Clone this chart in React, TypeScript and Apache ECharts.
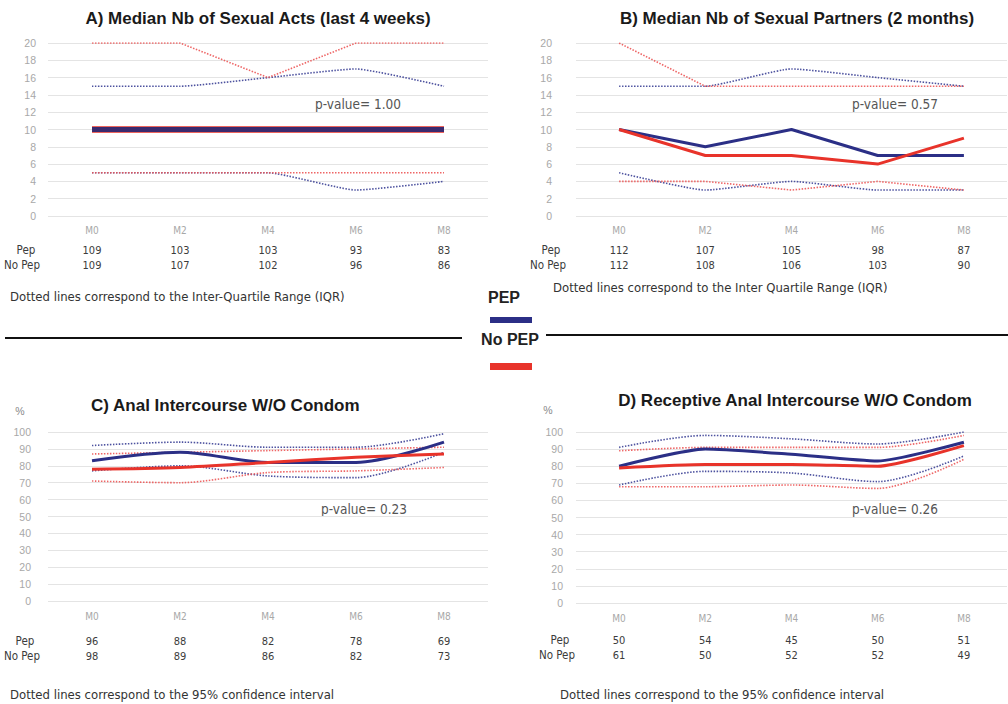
import React, { useEffect, useRef } from "react";
import * as echarts from "echarts";

// ---------- DATA ----------
const months = ["M0", "M2", "M4", "M6", "M8"];

// A) Median Nb of Sexual Acts (last 4 weeks)
const actsPepMedian = [10, 10, 10, 10, 10];
const actsNoPepMedian = [10, 10, 10, 10, 10];
const actsPepQ3 = [15, 15, 16, 17, 15];
const actsPepQ1 = [5, 5, 5, 3, 4];
const actsNoPepQ3 = [20, 20, 16, 20, 20];
const actsNoPepQ1 = [5, 5, 5, 5, 5];
const actsPepN = [109, 103, 103, 93, 83];
const actsNoPepN = [109, 107, 102, 96, 86];

// B) Median Nb of Sexual Partners (2 months)
const partPepMedian = [10, 8, 10, 7, 7];
const partNoPepMedian = [10, 7, 7, 6, 9];
const partPepQ3 = [15, 15, 17, 16, 15];
const partPepQ1 = [5, 3, 4, 3, 3];
const partNoPepQ3 = [20, 15, 15, 15, 15];
const partNoPepQ1 = [4, 4, 3, 4, 3];
const partPepN = [112, 107, 105, 98, 87];
const partNoPepN = [112, 108, 106, 103, 90];

// C) Anal Intercourse W/O Condom (%)
const aiPep = [83, 88, 82, 82, 94];
const aiNoPep = [78, 79, 82, 85, 87];
const aiPepHigh = [92, 94, 91, 91, 99];
const aiPepLow = [77, 80, 74, 73, 88];
const aiNoPepHigh = [87, 88, 89, 90, 91];
const aiNoPepLow = [71, 70, 76, 77, 79];
const aiPepN = [96, 88, 82, 78, 69];
const aiNoPepN = [98, 89, 86, 82, 73];

// D) Receptive Anal Intercourse W/O Condom (%)
const raiPep = [80, 90, 87, 83, 94];
const raiNoPep = [79, 81, 81, 80, 92];
const raiPepHigh = [91, 98, 96, 93, 100];
const raiPepLow = [69, 77, 76, 71, 86];
const raiNoPepHigh = [89, 91, 91, 91, 98];
const raiNoPepLow = [68, 68, 69, 67, 84];
const raiPepN = [50, 54, 45, 50, 51];
const raiNoPepN = [61, 50, 52, 52, 49];

const titles = [
  "A) Median Nb of Sexual Acts (last 4 weeks)",
  "B) Median Nb of Sexual Partners (2 months)",
  "C) Anal Intercourse W/O Condom",
  "D) Receptive Anal Intercourse W/O Condom",
];
const pValues = ["p-value= 1.00", "p-value= 0.57", "p-value= 0.23", "p-value= 0.26"];
const noteIQR_A = "Dotted lines correspond to the Inter-Quartile Range (IQR)";
const noteIQR_B = "Dotted lines correspond to the Inter Quartile Range (IQR)";
const noteCI = "Dotted lines correspond to the 95% confidence interval";

// ---------- STYLE ----------
const NAVY = "#2b2f86";
const RED = "#e8332a";
const DOT_BLUE = "#3a3f95";
const DOT_RED = "#ec5555";
const COND = "'Liberation Sans Narrow', 'DejaVu Sans Condensed', 'Liberation Sans', sans-serif";
const SANS = "'Liberation Sans', Arial, sans-serif";

function xAxis(gridIndex: number, pep: number[], nopep: number[], l1: number, margin: number) {
  return {
    type: "category",
    gridIndex,
    data: months,
    boundaryGap: true,
    axisLine: { show: false },
    axisTick: { show: false },
    splitLine: { show: false },
    axisLabel: {
      margin,
      interval: 0,
      formatter: (v: string, i: number) => `{m|${v}}\n{n|${pep[i]}}\n{n|${nopep[i]}}`,
      rich: {
        m: { color: "#a8a8a8", fontSize: 10, lineHeight: l1, fontFamily: COND },
        n: { color: "#3c3c3c", fontSize: 11, lineHeight: 15, fontFamily: COND },
      },
    },
  };
}

function yAxis(gridIndex: number, max: number, interval: number, margin: number) {
  return {
    type: "value",
    gridIndex,
    min: 0,
    max,
    interval,
    axisLine: { show: false },
    axisTick: { show: false },
    axisLabel: { color: "#a8a8a8", fontSize: 10.5, fontFamily: SANS, margin },
    splitLine: { lineStyle: { color: "#e4e4e4", width: 1 } },
  };
}

function dotted(idx: number, data: number[], color: string, smooth: number) {
  return {
    type: "line",
    xAxisIndex: idx,
    yAxisIndex: idx,
    data,
    symbol: "none",
    smooth,
    silent: true,
    lineStyle: { color, width: 1.6, type: [1.5, 1.5], opacity: 0.9 },
  };
}

function solid(idx: number, data: number[], color: string, width: number, smooth: number, z: number) {
  return {
    type: "line",
    xAxisIndex: idx,
    yAxisIndex: idx,
    data,
    symbol: "none",
    smooth,
    z,
    silent: true,
    lineStyle: { color, width },
  };
}

export default function App() {
  const ref = useRef<HTMLDivElement>(null);

  useEffect(() => {
    if (!ref.current) return;
    const chart = echarts.init(ref.current, null, { renderer: "svg" });

    const text = (x: number, y: number, t: string, style: any, extra: any = {}) => ({
      type: "text",
      x,
      y,
      silent: true,
      ...extra,
      style: { text: t, verticalAlign: "middle", ...style },
    });

    const titleStyle = { fontFamily: SANS, fontWeight: "bold", fontSize: 17, fill: "#1a1a1a" };
    const pStyle = { fontFamily: COND, fontSize: 13.5, fill: "#555" };
    const rowStyle = { fontFamily: COND, fontSize: 11.5, fill: "#3c3c3c", align: "center" };
    const noteStyle = { fontFamily: COND, fontSize: 13, fill: "#333" };
    const legStyle = { fontFamily: SANS, fontSize: 16, fontWeight: "bold", fill: "#222", align: "center" };

    const option: any = {
      animation: false,
      backgroundColor: "#ffffff",
      grid: [
        { left: 48, top: 43, width: 440, height: 173 },
        { left: 576, top: 43, width: 431, height: 173 },
        { left: 48, top: 432, width: 440, height: 169 },
        { left: 576, top: 432, width: 431, height: 171 },
      ],
      xAxis: [
        xAxis(0, actsPepN, actsNoPepN, 25, 1.5),
        xAxis(1, partPepN, partNoPepN, 25, 1.5),
        xAxis(2, aiPepN, aiNoPepN, 35, -2.5),
        xAxis(3, raiPepN, raiNoPepN, 29, 0.5),
      ],
      yAxis: [yAxis(0, 20, 2, 12), yAxis(1, 20, 2, 24), yAxis(2, 100, 10, 17), yAxis(3, 100, 10, 13)],
      series: [
        // A
        dotted(0, actsPepQ3, DOT_BLUE, 0.15),
        dotted(0, actsPepQ1, DOT_BLUE, 0.15),
        dotted(0, actsNoPepQ3, DOT_RED, 0),
        dotted(0, actsNoPepQ1, DOT_RED, 0),
        solid(0, actsNoPepMedian, RED, 6.5, 0, 3),
        solid(0, actsPepMedian, "#3a2a6e", 5, 0, 4),
        // B
        dotted(1, partPepQ3, DOT_BLUE, 0.15),
        dotted(1, partPepQ1, DOT_BLUE, 0.15),
        dotted(1, partNoPepQ3, DOT_RED, 0),
        dotted(1, partNoPepQ1, DOT_RED, 0),
        solid(1, partPepMedian, NAVY, 3, 0, 3),
        solid(1, partNoPepMedian, RED, 3, 0, 4),
        // C
        dotted(2, aiPepHigh, DOT_BLUE, 0.3),
        dotted(2, aiPepLow, DOT_BLUE, 0.3),
        dotted(2, aiNoPepHigh, DOT_RED, 0.3),
        dotted(2, aiNoPepLow, DOT_RED, 0.3),
        solid(2, aiPep, NAVY, 3, 0.3, 3),
        solid(2, aiNoPep, RED, 3, 0.3, 4),
        // D
        dotted(3, raiPepHigh, DOT_BLUE, 0.3),
        dotted(3, raiPepLow, DOT_BLUE, 0.3),
        dotted(3, raiNoPepHigh, DOT_RED, 0.3),
        dotted(3, raiNoPepLow, DOT_RED, 0.3),
        solid(3, raiPep, NAVY, 3, 0.2, 3),
        solid(3, raiNoPep, RED, 3, 0.2, 4),
      ],
      graphic: [
        // titles
        text(258, 18, titles[0], { ...titleStyle, align: "center" }),
        text(797, 18, titles[1], { ...titleStyle, align: "center" }),
        text(91, 405, titles[2], { ...titleStyle, align: "left" }),
        text(795, 400, titles[3], { ...titleStyle, align: "center" }),
        // % labels
        text(20, 411, "%", { fontFamily: SANS, fontSize: 10.5, fill: "#888", align: "center" }),
        text(548, 410, "%", { fontFamily: SANS, fontSize: 10.5, fill: "#888", align: "center" }),
        // p-values
        text(358, 104, pValues[0], { ...pStyle, align: "center" }),
        text(895, 104, pValues[1], { ...pStyle, align: "center" }),
        text(364, 509, pValues[2], { ...pStyle, align: "center" }),
        text(895, 509, pValues[3], { ...pStyle, align: "center" }),
        // table row labels
        text(26, 250, "Pep", rowStyle),
        text(22, 265, "No Pep", rowStyle),
        text(551, 250, "Pep", rowStyle),
        text(548, 265, "No Pep", rowStyle),
        text(25, 641, "Pep", rowStyle),
        text(22, 656, "No Pep", rowStyle),
        text(560, 640, "Pep", rowStyle),
        text(557, 655, "No Pep", rowStyle),
        // notes
        text(10, 296, noteIQR_A, noteStyle),
        text(553, 287, noteIQR_B, noteStyle),
        text(10, 694, noteCI, noteStyle),
        text(560, 694, noteCI, noteStyle),
        // legend
        text(504, 297, "PEP", legStyle),
        { type: "rect", shape: { x: 490, y: 317, width: 42, height: 6 }, style: { fill: NAVY }, silent: true },
        text(510, 339, "No PEP", legStyle),
        { type: "rect", shape: { x: 490, y: 363, width: 42, height: 7 }, style: { fill: RED }, silent: true },
        // dividers
        { type: "line", shape: { x1: 5, y1: 338, x2: 462, y2: 338 }, style: { stroke: "#111", lineWidth: 2 }, silent: true },
        { type: "line", shape: { x1: 546, y1: 335, x2: 1008, y2: 335 }, style: { stroke: "#111", lineWidth: 2 }, silent: true },
      ],
    };

    chart.setOption(option);
    return () => chart.dispose();
  }, []);

  return (
    <div
      ref={ref}
      style={{ position: "absolute", left: 0, top: 0, width: 1008, height: 704, background: "#fff" }}
    />
  );
}
